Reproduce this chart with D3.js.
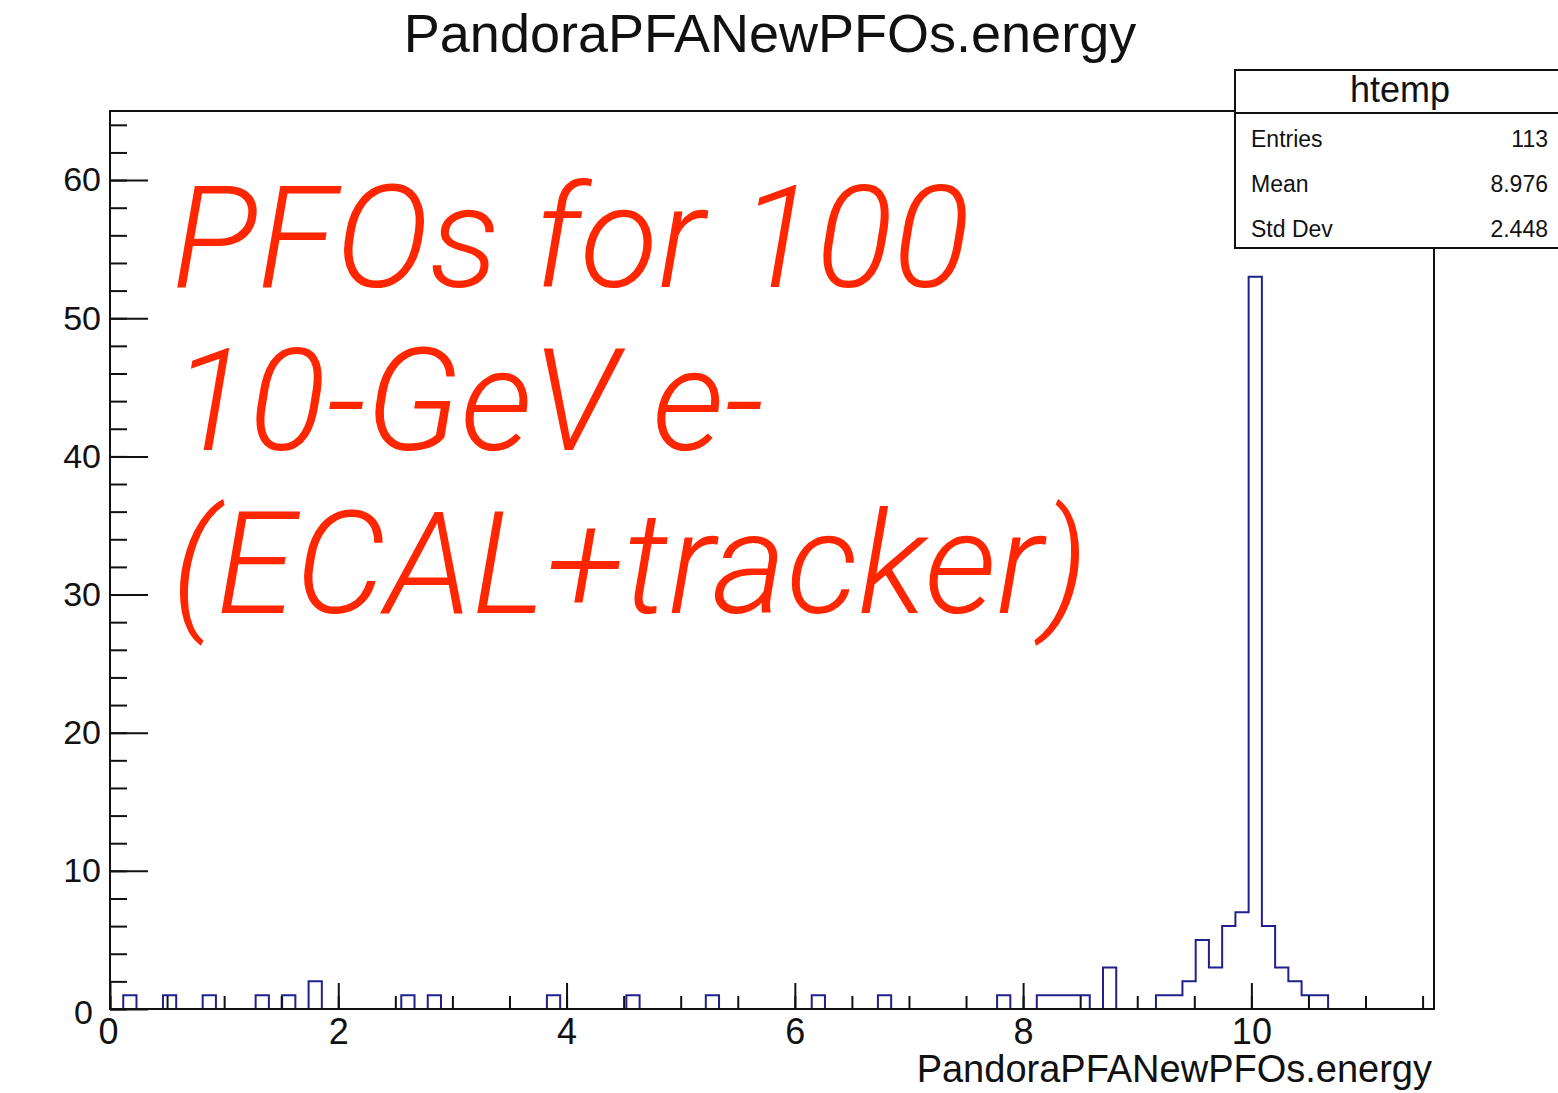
<!DOCTYPE html>
<html>
<head>
<meta charset="utf-8">
<script src="https://cdn.jsdelivr.net/npm/d3@7"></script>
<style>
  body { margin: 0; background: #fff; }
  svg { display: block; }
</style>
</head>
<body>
<script>
var HistPlot = (function() {

  // htemp: 100 bins between 0 and 11.6
  var nBins = 100;
  var xLow = 0;
  var xHigh = 11.6;
  var binCounts = [
    0, 1, 0, 0, 1, 0, 0, 1, 0, 0,
    0, 1, 0, 1, 0, 2, 0, 0, 0, 0,
    0, 0, 1, 0, 1, 0, 0, 0, 0, 0,
    0, 0, 0, 1, 0, 0, 0, 0, 0, 1,
    0, 0, 0, 0, 0, 1, 0, 0, 0, 0,
    0, 0, 0, 1, 0, 0, 0, 0, 1, 0,
    0, 0, 0, 0, 0, 0, 0, 1, 0, 0,
    1, 1, 1, 1, 0, 3, 0, 0, 0, 1,
    1, 2, 5, 3, 6, 7, 53, 6, 3, 2,
    1, 1, 0, 0, 0, 0, 0, 0, 0, 0
  ];
  var yMax = 65;
  var xMajorTicks = [0, 2, 4, 6, 8, 10];
  var yMajorTicks = [0, 10, 20, 30, 40, 50, 60];

  var statsNames = ["Entries", "Mean", "Std Dev"];
  var statsValues = ["113", "8.976", "2.448"];

  var noteLines = ["PFOs for 100", "10-GeV e-", "(ECAL+tracker)"];

  var init = function() {
    var width = 1558;
    var height = 1093;
    var frame = { left: 110, right: 1434, top: 111, bottom: 1009 };

    var svg = d3.select("body")
                .append("svg")
                .attr("width", width)
                .attr("height", height);

    svg.append("rect")
        .attr("width", width)
        .attr("height", height)
        .attr("fill", "white");

    var x = d3.scaleLinear().domain([xLow, xHigh]).range([frame.left, frame.right]);
    var y = d3.scaleLinear().domain([0, yMax]).range([frame.bottom, frame.top]);

    var binWidth = (xHigh - xLow) / nBins;
    var pts = [];
    binCounts.forEach(function(c, i) {
      pts.push([xLow + i * binWidth, c]);
      pts.push([xLow + (i + 1) * binWidth, c]);
    });

    var line = d3.line()
        .x(function(d) { return x(d[0]); })
        .y(function(d) { return y(d[1]); });

    svg.append("path")
        .datum(pts)
        .attr("d", line)
        .attr("fill", "none")
        .attr("stroke", "#20208f")
        .attr("stroke-width", 2);

    // x axis
    var xMinor = d3.range(0, xHigh + 0.001, 0.5);
    var gxMinor = svg.append("g")
        .attr("transform", "translate(0," + frame.bottom + ")")
        .call(d3.axisBottom(x).tickValues(xMinor).tickSize(-13).tickFormat(""));
    var gx = svg.append("g")
        .attr("transform", "translate(0," + frame.bottom + ")")
        .call(d3.axisBottom(x).tickValues(xMajorTicks).tickSize(-26).tickPadding(9)
              .tickFormat(d3.format("d")));

    // y axis
    var yMinor = d3.range(0, yMax + 0.001, 2);
    var gyMinor = svg.append("g")
        .attr("transform", "translate(" + frame.left + ",0)")
        .call(d3.axisLeft(y).tickValues(yMinor).tickSize(-17).tickFormat(""));
    var gy = svg.append("g")
        .attr("transform", "translate(" + frame.left + ",0)")
        .call(d3.axisLeft(y).tickValues(yMajorTicks).tickSize(-38).tickPadding(9)
              .tickFormat(d3.format("d")));

    [gxMinor, gx, gyMinor, gy].forEach(function(g) {
      g.select(".domain").remove();
      g.selectAll("line").attr("stroke", "#111").attr("stroke-width", 2);
    });
    gx.selectAll("text")
        .attr("font-family", "Liberation Sans, Arial, sans-serif")
        .attr("font-size", "36px")
        .attr("fill", "#111");
    gx.selectAll("text").filter(function(d) { return d === 0; })
        .attr("dx", -2);
    gy.selectAll("text")
        .attr("font-family", "Liberation Sans, Arial, sans-serif")
        .attr("font-size", "34px")
        .attr("fill", "#111");
    gy.selectAll("text").filter(function(d) { return d === 0; })
        .attr("dx", -8)
        .attr("dy", "0.42em");

    // frame
    svg.append("rect")
        .attr("x", frame.left)
        .attr("y", frame.top)
        .attr("width", frame.right - frame.left)
        .attr("height", frame.bottom - frame.top)
        .attr("fill", "none")
        .attr("stroke", "#111")
        .attr("stroke-width", 2);

    // titles
    svg.append("text")
        .text("PandoraPFANewPFOs.energy")
        .attr("x", 770)
        .attr("y", 52)
        .attr("text-anchor", "middle")
        .attr("font-family", "Liberation Sans, Arial, sans-serif")
        .attr("font-size", "54px")
        .attr("fill", "#111");

    svg.append("text")
        .text("PandoraPFANewPFOs.energy")
        .attr("x", frame.right - 2)
        .attr("y", 1082)
        .attr("text-anchor", "end")
        .attr("font-family", "Liberation Sans, Arial, sans-serif")
        .attr("font-size", "38px")
        .attr("fill", "#111");

    // stats box
    var box = svg.append("g");
    box.append("rect")
        .attr("x", 1235)
        .attr("y", 70)
        .attr("width", 340)
        .attr("height", 178)
        .attr("fill", "white")
        .attr("stroke", "#111")
        .attr("stroke-width", 2);
    box.append("line")
        .attr("x1", 1235).attr("x2", 1575)
        .attr("y1", 113).attr("y2", 113)
        .attr("stroke", "#111")
        .attr("stroke-width", 2);
    box.append("text")
        .text("htemp")
        .attr("x", 1400)
        .attr("y", 102)
        .attr("text-anchor", "middle")
        .attr("font-family", "Liberation Sans, Arial, sans-serif")
        .attr("font-size", "36px")
        .attr("fill", "#111");
    box.selectAll("text.name")
        .data(statsNames)
        .enter()
        .append("text")
        .attr("class", "name")
        .text(function(d) { return d; })
        .attr("x", 1251)
        .attr("y", function(d, i) { return 147 + i * 45; })
        .attr("font-family", "Liberation Sans, Arial, sans-serif")
        .attr("font-size", "23px")
        .attr("fill", "#111");
    box.selectAll("text.val")
        .data(statsValues)
        .enter()
        .append("text")
        .attr("class", "val")
        .text(function(d) { return d; })
        .attr("x", 1548)
        .attr("y", function(d, i) { return 147 + i * 45; })
        .attr("text-anchor", "end")
        .attr("font-family", "Liberation Sans, Arial, sans-serif")
        .attr("font-size", "23px")
        .attr("fill", "#111");

    // red annotation
    svg.selectAll("text.note")
        .data(noteLines)
        .enter()
        .append("text")
        .attr("class", "note")
        .text(function(d) { return d; })
        .attr("x", 172)
        .attr("y", function(d, i) { return 287 + i * 163; })
        .attr("font-family", "Roboto, Liberation Sans, sans-serif")
        .attr("font-style", "italic")
        .attr("font-weight", 300)
        .attr("font-size", "143px")
        .attr("fill", "#ff2600");
  };

  return { 'init': init };
})();

HistPlot.init();
</script>
</body>
</html>
